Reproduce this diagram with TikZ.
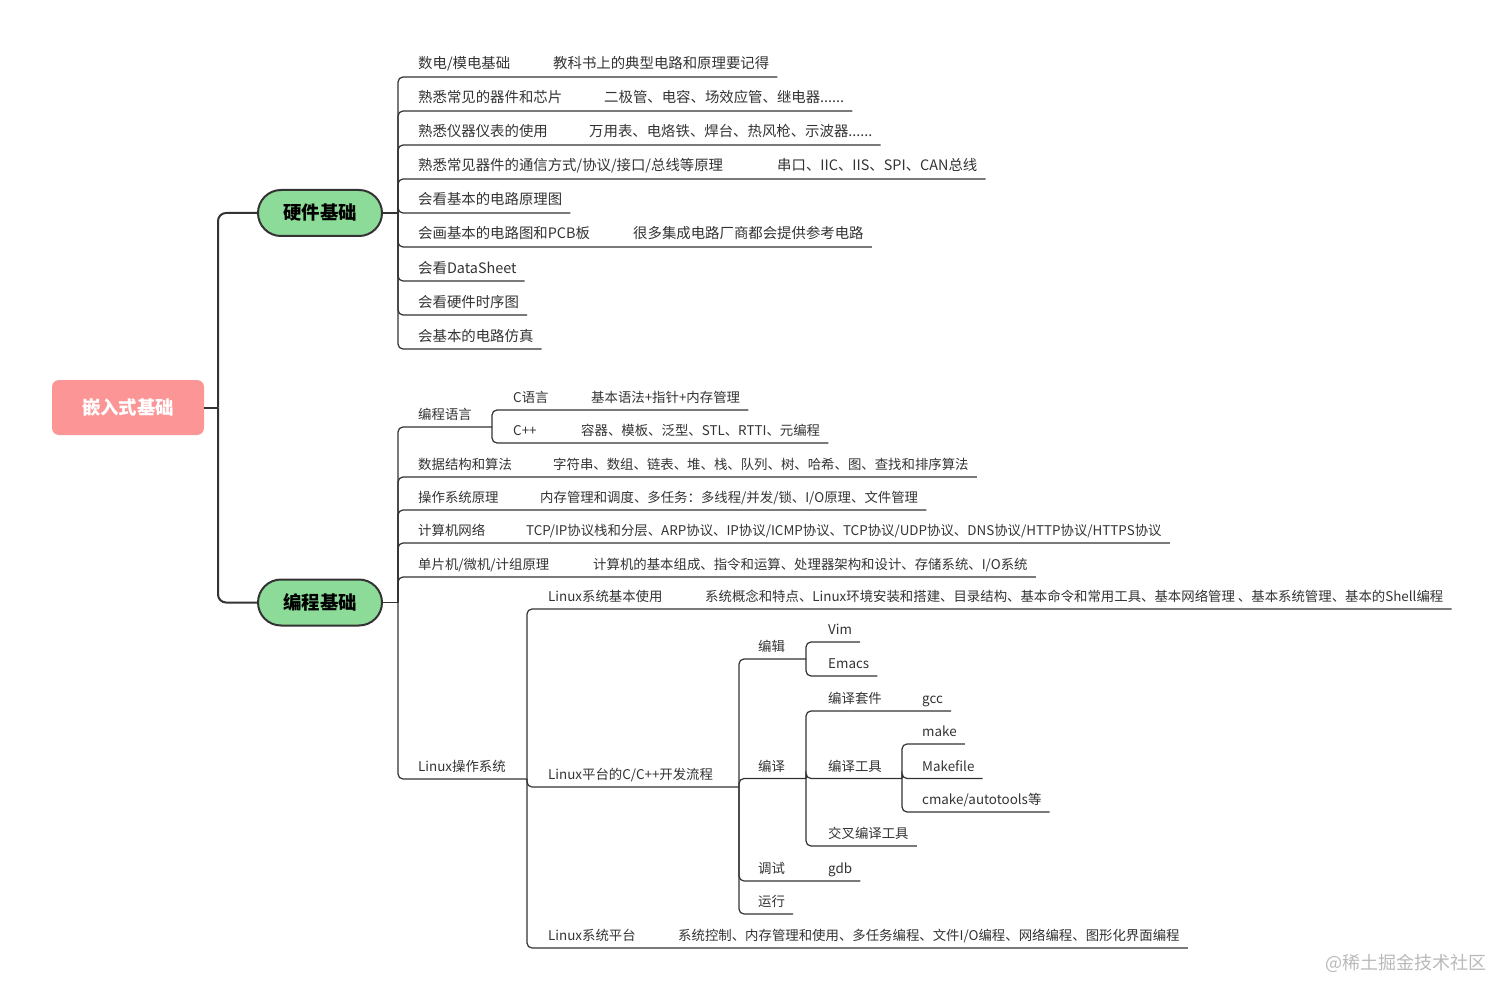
\documentclass[tikz,border=0pt]{standalone}
\usepackage{fontspec}
\setmainfont{Noto Sans CJK SC}
\definecolor{rootfill}{RGB}{252,150,150}
\definecolor{topicfill}{RGB}{141,219,152}
\definecolor{inkgray}{RGB}{51,51,51}
\definecolor{markgray}{RGB}{185,185,185}

\begin{document}
\begin{tikzpicture}[x=1pt,y=-1pt,
  every node/.style={inner sep=0pt,text=inkgray,font=\fontsize{14.4}{17}\selectfont},
  leaf/.style={anchor=base west},
  pleaf/.style={anchor=base west,font=\fontsize{13.4}{16}\selectfont},
  rootbox/.style={fill=rootfill,rounded corners=7pt,minimum width=152pt,minimum height=55pt,text=white,font=\fontsize{18.4}{22}\selectfont\bfseries},
  topicbox/.style={draw=inkgray,line width=2pt,fill=topicfill,rounded corners=23pt,minimum width=124pt,minimum height=46pt,text=black,font=\fontsize{18.4}{22}\selectfont\bfseries},
  trunk/.style={draw=inkgray,line width=2pt,rounded corners=8pt},
  bough/.style={draw=inkgray,line width=1.6pt},
  twig/.style={draw=inkgray,line width=1.2pt,rounded corners=5pt}]
\useasboundingbox (0,0) rectangle (1512,1000);
\node[rootbox] (root) at (128,407.5) {嵌入式基础};
\node[topicbox] (hw) at (320,213) {硬件基础};
\node[topicbox] (pg) at (320,602.5) {编程基础};

\node[leaf] (h1) at (418,69) {数电/模电基础};
\node[leaf] (h1s) at (553,69) {教科书上的典型电路和原理要记得};
\node[leaf] (h2) at (418,103) {熟悉常见的器件和芯片};
\node[leaf] (h2s) at (604,103) {二极管、电容、场效应管、继电器......};
\node[leaf] (h3) at (418,137) {熟悉仪器仪表的使用};
\node[leaf] (h3s) at (589,137) {万用表、电烙铁、焊台、热风枪、示波器......};
\node[leaf] (h4) at (418,171) {熟悉常见器件的通信方式/协议/接口/总线等原理};
\node[leaf] (h4s) at (777,171) {串口、IIC、IIS、SPI、CAN总线};
\node[leaf] (h5) at (418,205) {会看基本的电路原理图};
\node[leaf] (h6) at (418,239) {会画基本的电路图和PCB板};
\node[leaf] (h6s) at (633,239) {很多集成电路厂商都会提供参考电路};
\node[leaf] (h7) at (418,273) {会看DataSheet};
\node[leaf] (h8) at (418,307) {会看硬件时序图};
\node[leaf] (h9) at (418,341) {会基本的电路仿真};

\node[pleaf] (p1) at (418,419.5) {编程语言};
\node[pleaf] (c1) at (513,402.5) {C语言};
\node[pleaf] (c1s) at (591,402.5) {基本语法+指针+内存管理};
\node[pleaf] (c2) at (513,435.5) {C++};
\node[pleaf] (c2s) at (581,435.5) {容器、模板、泛型、STL、RTTI、元编程};
\node[pleaf] (p2) at (418,469.5) {数据结构和算法};
\node[pleaf] (p2s) at (553,469.5) {字符串、数组、链表、堆、栈、队列、树、哈希、图、查找和排序算法};
\node[pleaf] (p3) at (418,502.5) {操作系统原理};
\node[pleaf] (p3s) at (540,502.5) {内存管理和调度、多任务：多线程/并发/锁、I/O原理、文件管理};
\node[pleaf] (p4) at (418,535.5) {计算机网络};
\node[pleaf] (p4s) at (526,535.5) {TCP/IP协议栈和分层、ARP协议、IP协议/ICMP协议、TCP协议/UDP协议、DNS协议/HTTP协议/HTTPS协议};
\node[pleaf] (p5) at (418,569.5) {单片机/微机/计组原理};
\node[pleaf] (p5s) at (593,569.5) {计算机的基本组成、指令和运算、处理器架构和设计、存储系统、I/O系统};
\node[pleaf] (p6) at (418,771.5) {Linux操作系统};
\node[pleaf] (l1) at (548,601.5) {Linux系统基本使用};
\node[pleaf] (l1s) at (705,601.5) {系统概念和特点、Linux环境安装和搭建、目录结构、基本命令和常用工具、基本网络管理 、基本系统管理、基本的Shell编程};
\node[pleaf] (l2) at (548,779.5) {Linux平台的C/C++开发流程};
\node[pleaf] (l3) at (548,940.5) {Linux系统平台};
\node[pleaf] (l3s) at (678,940.5) {系统控制、内存管理和使用、多任务编程、文件I/O编程、网络编程、图形化界面编程};
\node[pleaf] (d1) at (758,651.5) {编辑};
\node[pleaf] (e1) at (828,634.5) {Vim};
\node[pleaf] (e2) at (828,668.5) {Emacs};
\node[pleaf] (d2) at (758,771) {编译};
\node[pleaf] (b1) at (828,703.5) {编译套件};
\node[pleaf] (b1s) at (922,703.5) {gcc};
\node[pleaf] (b2) at (828,771) {编译工具};
\node[pleaf] (t1) at (922,736.5) {make};
\node[pleaf] (t2) at (922,771) {Makefile};
\node[pleaf] (t3) at (922,804.5) {cmake/autotools等};
\node[pleaf] (b3) at (828,838.5) {交叉编译工具};
\node[pleaf] (d3) at (758,873.5) {调试};
\node[pleaf] (d3s) at (828,873.5) {gdb};
\node[pleaf] (d4) at (758,906.5) {运行};

\node[text=markgray,font=\fontsize{18}{20}\selectfont] (wm) at (1406,963) {@稀土掘金技术社区};

\coordinate (rj) at (218,407.5);
\coordinate (hj) at (398,213);
\coordinate (pj) at (398,602.5);
\coordinate (cj) at (492,427);
\coordinate (lj) at (527,779);
\coordinate (dj) at (739,787);
\coordinate (ej) at (806,659);
\coordinate (bj) at (806,778.5);
\coordinate (tj) at (902,778.5);

\draw[trunk] (root.east) -- (rj);
\foreach \t in {hw,pg} \draw[trunk] (rj) |- (\t.west);
\draw[bough] (hw.east) -- (hj);
\draw[bough] (pg.east) -- (pj);
\foreach \n in {h1s,h2s,h3s,h4s,h5,h6s,h7,h8,h9} \draw[twig] (hj) |- ([shift={(8pt,-8pt)}]\n.base east);
\foreach \n in {p2s,p3s,p4s,p5s} \draw[twig] (pj) |- ([shift={(8pt,-7.5pt)}]\n.base east);
\foreach \n in {cj,lj} \draw[twig] (pj) |- (\n);
\foreach \n in {c1s,c2s} \draw[twig] (cj) |- ([shift={(8pt,-7.5pt)}]\n.base east);
\foreach \n in {l1s,l3s} \draw[twig] (lj) |- ([shift={(8pt,-7.5pt)}]\n.base east);
\draw[twig] (lj) |- (dj);
\foreach \n in {ej,bj} \draw[twig] (dj) |- (\n);
\foreach \n in {d3s,d4} \draw[twig] (dj) |- ([shift={(8pt,-7.5pt)}]\n.base east);
\foreach \n in {e1,e2} \draw[twig] (ej) |- ([shift={(8pt,-7.5pt)}]\n.base east);
\foreach \n in {b1s,b3} \draw[twig] (bj) |- ([shift={(8pt,-7.5pt)}]\n.base east);
\draw[twig] (bj) |- (tj);
\foreach \n in {t1,t2,t3} \draw[twig] (tj) |- ([shift={(8pt,-7.5pt)}]\n.base east);
\end{tikzpicture}
\end{document}
